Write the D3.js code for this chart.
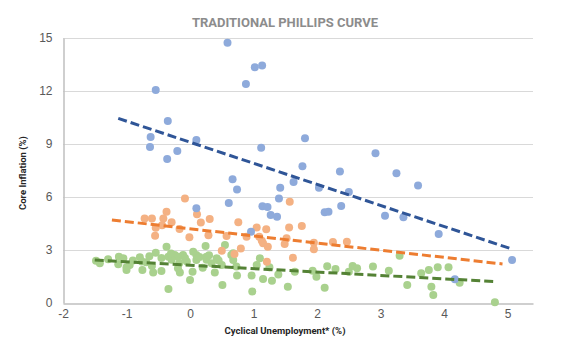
<!DOCTYPE html>
<html>
<head>
<meta charset="utf-8">
<script src="https://cdn.jsdelivr.net/npm/d3@7"></script>
<style>
  html, body { margin: 0; padding: 0; background: #fff; }
  svg { display: block; }
</style>
</head>
<body>
<svg id="chart" width="564" height="350"></svg>
<script>
// ---------- DATA ----------
const chartTitle = "TRADITIONAL PHILLIPS CURVE";
const xAxisTitle = "Cyclical Unemployment* (%)";
const yAxisTitle = "Core Inflation (%)";
const xTicks = [-2, -1, 0, 1, 2, 3, 4, 5];
const yTicks = [0, 3, 6, 9, 12, 15];

const bluePoints = [
  [0.59,14.73],[-0.54,12.05],[1.02,13.34],[1.135,13.45],[0.88,12.39],[-0.35,10.3],
  [-0.62,9.39],[-0.63,8.83],[0.10,9.22],[-0.20,8.60],[-0.36,8.15],[1.12,8.79],
  [1.81,9.32],[2.92,8.47],[1.77,7.74],[2.36,7.45],[3.25,7.35],[3.59,6.65],
  [1.63,6.85],[2.03,6.53],[2.50,6.28],[1.42,6.52],[1.40,5.91],[2.38,5.49],
  [2.12,5.13],[2.18,5.17],[3.07,4.94],[3.36,4.86],[3.915,3.90],[5.07,2.43],
  [4.17,1.34],[0.67,7.0],[0.74,6.43],[0.61,5.66],[0.10,5.36],[1.14,5.47],
  [1.22,5.43],[1.27,4.98],[1.37,4.88],[0.96,4.04]
];
const orangePoints = [
  [-0.08,5.92],[-0.37,5.17],[0.11,5.03],[-0.715,4.79],[-0.60,4.79],[-0.42,4.79],
  [0.31,4.75],[-0.29,4.57],[0.17,4.55],[-0.54,4.26],[-0.44,4.40],[-0.165,4.19],
  [-0.55,3.81],[-0.01,3.72],[0.29,3.83],[0.575,3.79],[0.76,4.57],[1.05,4.28],
  [1.20,4.17],[1.57,5.73],[1.56,4.27],[0.89,3.75],[0.50,2.96],[0.70,2.77],
  [1.76,4.36],[1.09,3.75],[1.13,3.53],[1.15,3.38],[1.225,3.19],[1.49,3.34],
  [1.52,3.66],[0.80,3.09],[1.95,3.41],[1.95,3.04],[2.25,3.45],[2.47,3.47],
  [1.62,2.56],[1.21,2.34]
];
const greenPoints = [
  [-1.48,2.39],[-1.42,2.25],[-1.29,2.47],[-1.12,2.62],[-1.13,2.19],[-1.05,2.53],
  [-1.0,2.02],[-0.95,2.15],[-1.0,1.87],[-0.79,2.59],[-0.76,2.35],[-0.69,2.30],
  [-0.75,1.87],[-0.58,1.72],[-0.54,2.85],[-0.45,1.81],[-0.37,3.19],[-0.34,2.62],
  [-0.24,2.72],[-0.19,2.62],[-0.11,2.72],[-0.08,2.55],[-0.17,2.25],[-0.34,0.79],
  [-0.19,1.96],[-0.16,1.72],[0.0,1.30],[0.04,1.77],[0.10,2.43],[0.10,2.72],
  [0.245,3.23],[0.26,2.62],[0.26,2.45],[0.34,2.25],[0.42,2.53],[0.39,1.72],
  [0.50,2.15],[0.55,3.28],[0.51,1.02],[0.65,2.72],[0.68,2.43],[0.68,2.81],
  [0.73,2.06],[0.74,1.55],[0.97,1.55],[0.98,0.65],[1.05,2.15],[1.10,2.53],
  [1.15,1.36],[1.25,2.02],[1.29,1.26],[1.39,1.62],[1.54,0.92],[1.65,1.77],
  [1.93,1.83],[1.99,1.49],[2.12,0.87],[2.16,2.08],[2.29,1.92],[2.50,1.77],
  [2.56,2.09],[2.63,1.96],[2.88,2.06],[3.13,1.83],[3.30,2.68],[3.42,1.02],
  [3.64,1.68],[3.76,1.87],[3.80,0.92],[3.83,0.45],[3.90,2.02],[4.07,2.02],
  [4.245,1.15],[4.80,0.04],
  [-0.64,2.65],[-0.45,2.55],[-0.29,2.45],[-0.05,2.35],[0.15,2.6],[0.3,2.7],
  [-0.9,2.4],[-0.6,2.1],[0.2,2.0],[0.45,2.4],[-0.3,2.8],[0.05,2.9]
];

const blueTrend = [[-1.13,10.45],[5.08,3.04]];
const orangeTrend = [[-1.23,4.70],[4.92,2.21]];
const greenTrend = [[-1.50,2.43],[4.81,1.21]];

// ---------- STYLES ----------
const colors = {
  blue: "#8eaadb", orange: "#f4b183", green: "#a9d18e",
  blueLine: "#2f5597", orangeLine: "#ed7d31", greenLine: "#548235"
};

const svg = d3.select("#chart");
const margin = {left: 63, right: 31, top: 38, bottom: 47};
const W = 564, H = 350;

const x = d3.scaleLinear().domain([-2, 5.4]).range([margin.left, W - margin.right]);
const y = d3.scaleLinear().domain([0, 15]).range([H - margin.bottom, margin.top]);

// gridlines
svg.append("g").selectAll("line").data(yTicks.filter(d => d > 0)).join("line")
  .attr("x1", x.range()[0]).attr("x2", x.range()[1])
  .attr("y1", d => y(d) + 0.5).attr("y2", d => y(d) + 0.5)
  .attr("stroke", "#d9d9d9").attr("stroke-width", 1);

// axes
const fmt = d => String(d);
const yAxis = d3.axisLeft(y).tickValues(yTicks).tickSize(0).tickPadding(11).tickFormat(fmt);
const gy = svg.append("g").attr("transform", `translate(${margin.left + 0.5},0)`).call(yAxis);
gy.select(".domain").attr("stroke", "#bfbfbf").attr("stroke-width", 1.5);
gy.selectAll("text").attr("font-family", "Liberation Sans, Arial, sans-serif")
  .attr("font-size", 12).attr("fill", "#595959");

const xAxis = d3.axisBottom(x).tickValues(xTicks).tickSize(0).tickPadding(6).tickFormat(fmt);
const gx = svg.append("g").attr("transform", `translate(0,${y(0) + 0.5})`).call(xAxis);
gx.select(".domain").attr("stroke", "#bfbfbf").attr("stroke-width", 1.5);
gx.selectAll("text").attr("font-family", "Liberation Sans, Arial, sans-serif")
  .attr("font-size", 12).attr("fill", "#595959");

// points
function drawPoints(data, color) {
  svg.append("g").selectAll("circle").data(data).join("circle")
    .attr("cx", d => x(d[0])).attr("cy", d => y(d[1]))
    .attr("r", 4).attr("fill", color);
}
drawPoints(greenPoints, colors.green);
drawPoints(orangePoints, colors.orange);
drawPoints(bluePoints, colors.blue);

// trendlines
const line = d3.line().x(d => x(d[0])).y(d => y(d[1]));
function drawTrend(data, color) {
  svg.append("path").datum(data).attr("d", line)
    .attr("fill", "none").attr("stroke", color).attr("stroke-width", 3)
    .attr("stroke-dasharray", "9,4");
}
drawTrend(blueTrend, colors.blueLine);
drawTrend(orangeTrend, colors.orangeLine);
drawTrend(greenTrend, colors.greenLine);

// titles
svg.append("text").attr("x", 285).attr("y", 27).attr("text-anchor", "middle")
  .attr("font-family", "Roboto, Arial, sans-serif").attr("font-weight", "bold")
  .attr("font-size", 13).attr("fill", "#8c8c8c").text(chartTitle);

svg.append("text").attr("x", 285).attr("y", 334).attr("text-anchor", "middle")
  .attr("font-family", "Roboto, Arial, sans-serif").attr("font-weight", "bold")
  .attr("font-size", 9.5).attr("fill", "#262626").text(xAxisTitle);

svg.append("text").attr("transform", "translate(26,173) rotate(-90)").attr("text-anchor", "middle")
  .attr("font-family", "Roboto, Arial, sans-serif").attr("font-weight", "bold")
  .attr("font-size", 9.5).attr("fill", "#262626").text(yAxisTitle);
</script>
</body>
</html>
